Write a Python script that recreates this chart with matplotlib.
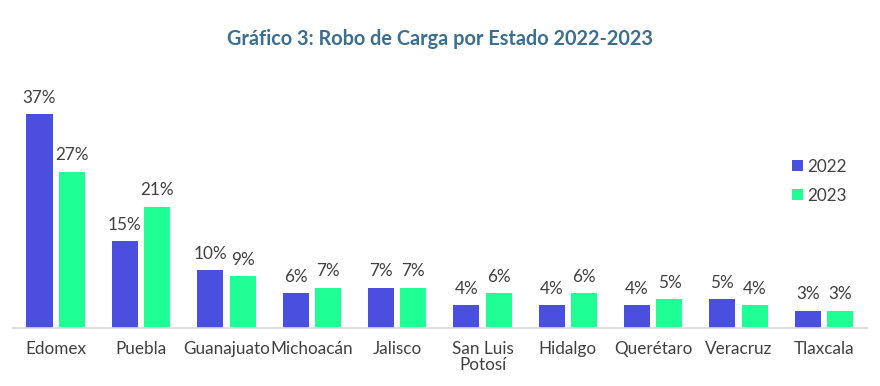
import numpy as np
import matplotlib.pyplot as plt

estados = ["Edomex", "Puebla", "Guanajuato", "Michoacán", "Jalisco",
           "San Luis\nPotosí", "Hidalgo", "Querétaro", "Veracruz", "Tlaxcala"]
v2022 = [37, 15, 10, 6, 7, 4, 4, 4, 5, 3]
v2023 = [27, 21, 9, 7, 7, 6, 6, 5, 4, 3]

plt.rcParams['font.family'] = ['Lato', 'DejaVu Sans']
gris = "#404040"

fig = plt.figure(figsize=(8.8, 3.86), dpi=100)
ax = fig.add_axes([0.0148, 0.150, 0.97, 0.591])

x = np.arange(len(estados))
w = 0.305
off = 0.19
b1 = ax.bar(x - off, v2022, w, color="#4A4FE0", label="2022")
b2 = ax.bar(x + off, v2023, w, color="#1EFF96", label="2023")

for bars, vals in ((b1, v2022), (b2, v2023)):
    for b, v in zip(bars, vals):
        ax.annotate(f"{v}%", (b.get_x() + b.get_width() / 2, v),
                    xytext=(0, 6), textcoords="offset points",
                    ha="center", va="bottom", fontsize=12.3, color=gris)

ax.set_xlim(-0.5, 9.5)
ax.set_ylim(0, 39.4)
ax.set_xticks(x)
ax.set_xticklabels(estados, fontsize=12.3, color=gris, linespacing=1.05)
ax.tick_params(axis="x", length=0, pad=9)
ax.set_yticks([])
for s in ("top", "right", "left"):
    ax.spines[s].set_visible(False)
ax.spines["bottom"].set_color("#D9D9D9")
ax.spines["bottom"].set_linewidth(1.2)

leg = ax.legend(loc="upper left", bbox_to_anchor=(0.895, 0.81), frameon=False,
                fontsize=12.3, handlelength=0.6, handleheight=0.6,
                handletextpad=0.3, labelspacing=0.75)
for t in leg.get_texts():
    t.set_color(gris)

fig.text(0.5, 0.90, "Gráfico 3: Robo de Carga por Estado 2022-2023",
         ha="center", va="center", fontsize=14.3, fontweight="bold", color="#3B6E8F")

fig.savefig("out.png", dpi=100)
